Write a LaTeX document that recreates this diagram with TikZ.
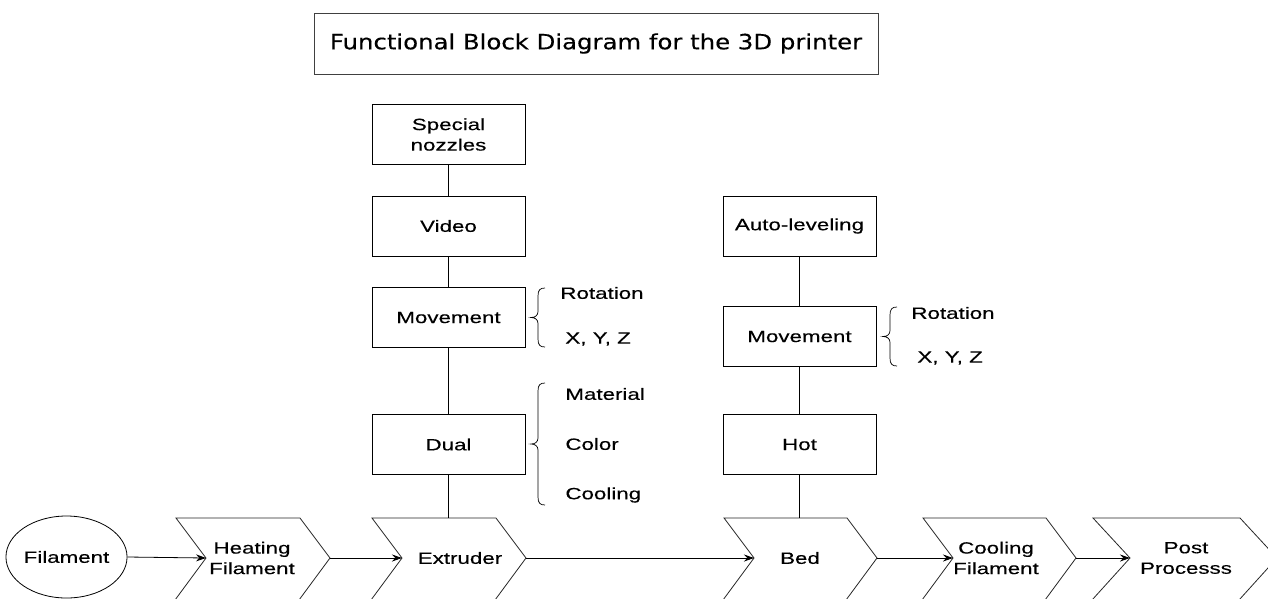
\documentclass[tikz,border=0pt]{standalone}
\usepackage{fontspec}
\setmainfont{Liberation Sans}[FakeStretch=1.37,FakeBold=0.35]
\newfontfamily\titlefont{DejaVu Sans}[FakeStretch=1.16,FakeBold=0.3]
\usetikzlibrary{arrows.meta,shapes.geometric}

% curly brace opening to the right: x of the hook ends, top y, bottom y
\newcommand\sidebrace[3]{%
  \pgfmathsetmacro\bym{(#2+#3)/2}%
  \draw[bracestyle] (#1,#2) .. controls (#1-5,#2) and (#1-7,#2+2) .. (#1-7,#2+8)
    -- (#1-7,\bym-6) .. controls (#1-7,\bym-2) and (#1-10,\bym) .. (#1-14,\bym)
    .. controls (#1-10,\bym) and (#1-7,\bym+2) .. (#1-7,\bym+6)
    -- (#1-7,#3-8) .. controls (#1-7,#3-2) and (#1-5,#3) .. (#1,#3);}

\begin{document}
\begin{tikzpicture}[x=1pt,y=-1pt,line width=0.8pt,
  lblfont/.style={font=\fontsize{16.3}{20.5}\selectfont},
  box/.style={draw, lblfont, minimum width=153pt, minimum height=60pt,
    inner sep=0pt, align=center},
  lbl/.style={lblfont, inner sep=0pt, align=center},
  side/.style={lblfont, anchor=west, inner sep=0pt},
  chev/.style={draw, line join=miter, draw=black!85},
  bracestyle/.style={draw, line width=0.7pt},
  link/.style={draw},
  flow/.style={draw, -{Stealth[length=10pt,width=7pt]}}
]
\useasboundingbox (0,0) rectangle (1268,598);

% title
\node[draw=black!75, minimum width=564pt, minimum height=61pt, inner sep=0pt,
  font=\titlefont\fontsize{21}{24}\selectfont] (title) at (596,43.5)
  {Functional Block Diagram for the 3D printer};

% extruder column
\node[box] (nozzles) at (448.5,134.5) {Special\\nozzles};
\node[box] (video)   at (448.5,226)   {Video};
\node[box] (move1)   at (448.5,317.5) {Movement};
\node[box] (dual)    at (448.5,444.5) {Dual};

% bed column
\node[box] (auto)  at (799.5,226)   {Auto-leveling};
\node[box] (move2) at (799.5,336.5) {Movement};
\node[box] (hot)   at (799.5,444.5) {Hot};

% options beside the boxes
\sidebrace{545}{288}{347}
\node[side] (rot1) at (560,293) {Rotation};
\node[side] (xyz1) at (565,339) {X, Y, Z};
\sidebrace{545}{383}{505}
\node[side] (mat)  at (565,394) {Material};
\node[side] (col)  at (565,444) {Color};
\node[side] (cool) at (565,495) {Cooling};
\sidebrace{897}{307}{366}
\node[side] (rot2) at (911,313) {Rotation};
\node[side] (xyz2) at (917,358) {X, Y, Z};

% process chain
\node[draw, ellipse, lblfont, minimum width=115pt, minimum height=82pt, inner sep=0pt]
  (fil) at (66.5,557) {Filament};

\draw[chev] (176,518) -- (300,518) -- (330,558) -- (299,600) -- (175,600) -- (206,558) -- cycle;
\node[lbl] (heat) at (252,558) {Heating\\Filament};
\coordinate (heat-in) at (206,558); \coordinate (heat-out) at (330,558);

\draw[chev] (372,518) -- (496,518) -- (526,558) -- (495,600) -- (371,600) -- (402,558) -- cycle;
\node[lbl] (extr) at (460,558) {Extruder};
\coordinate (extr-in) at (402,558); \coordinate (extr-out) at (526,558);
\coordinate (extr-top) at (448.5,518);

\draw[chev] (724,518) -- (847,518) -- (877,558) -- (846,600) -- (723,600) -- (754,558) -- cycle;
\node[lbl] (bed) at (800,558) {Bed};
\coordinate (bed-in) at (754,558); \coordinate (bed-out) at (877,558);
\coordinate (bed-top) at (799.5,518);

\draw[chev] (923,518) -- (1046,518) -- (1076,558) -- (1045,600) -- (922,600) -- (953,558) -- cycle;
\node[lbl] (coolf) at (996,558) {Cooling\\Filament};
\coordinate (coolf-in) at (953,558); \coordinate (coolf-out) at (1076,558);

\draw[chev] (1093,518) -- (1240,518) -- (1277,558) -- (1239,600) -- (1092,600) -- (1130,558) -- cycle;
\node[lbl] (post) at (1186,558) {Post\\Processs};
\coordinate (post-in) at (1130,558);

% vertical links
\draw[link] (nozzles.south) -- (video.north);
\draw[link] (video.south) -- (move1.north);
\draw[link] (move1.south) -- (dual.north);
\draw[link] (dual.south) -- (extr-top);
\draw[link] (auto.south) -- (move2.north);
\draw[link] (move2.south) -- (hot.north);
\draw[link] (hot.south) -- (bed-top);

% flow arrows
\draw[flow] (fil.east) -- (heat-in);
\draw[flow] (heat-out) -- (extr-in);
\draw[flow] (extr-out) -- (bed-in);
\draw[flow] (bed-out) -- (coolf-in);
\draw[flow] (coolf-out) -- (post-in);
\end{tikzpicture}
\end{document}
